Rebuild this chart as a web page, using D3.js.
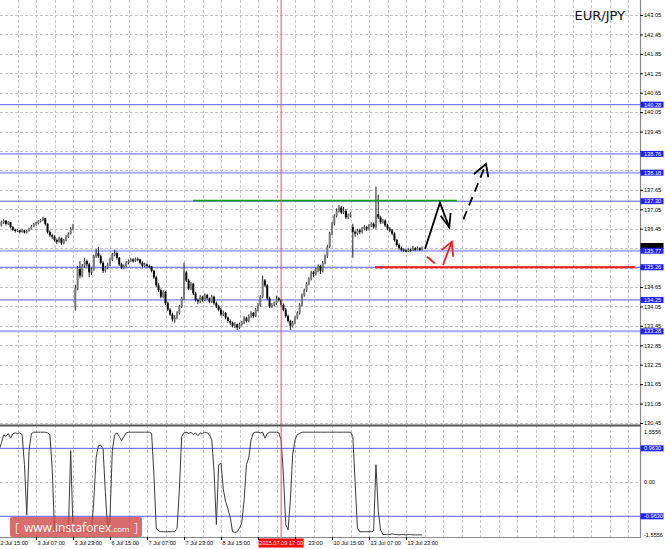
<!DOCTYPE html>
<html><head><meta charset="utf-8">
<script src="https://cdn.jsdelivr.net/npm/d3@7"></script>
<style>html,body{margin:0;padding:0;background:#fff;}svg{display:block;}</style>
</head><body>
<svg id="c" width="665" height="549"></svg>
<script>
// ---- DATA (H1 bars, [open, high, low, close]) ----
const candles = [
[136.50,136.62,136.45,136.55],[136.55,136.70,136.52,136.65],[136.65,136.74,136.60,136.70],[136.70,136.72,136.55,136.60],
[136.60,136.68,136.56,136.65],[136.65,136.66,136.46,136.50],[136.50,136.53,136.38,136.42],[136.42,136.45,136.33,136.38],
[136.38,136.44,136.35,136.40],[136.40,136.42,136.30,136.35],[136.35,136.45,136.33,136.40],[136.40,136.42,136.30,136.33],
[136.33,136.41,136.30,136.38],[136.38,136.48,136.36,136.45],[136.45,136.56,136.43,136.52],[136.52,136.63,136.50,136.60],
[136.60,136.66,136.55,136.62],[136.62,136.71,136.58,136.68],[136.68,136.75,136.64,136.72],[136.72,136.82,136.68,136.78],
[136.78,136.79,136.55,136.60],[136.60,136.62,136.30,136.35],[136.35,136.40,136.20,136.25],[136.25,136.30,136.14,136.20],
[136.20,136.24,136.05,136.10],[136.10,136.15,135.98,136.05],[136.05,136.20,136.02,136.15],[136.15,136.18,135.95,136.00],
[136.00,136.14,135.97,136.10],[136.10,136.25,136.06,136.20],[136.20,136.34,136.16,136.30],[136.30,136.50,136.27,136.45],
[136.45,136.60,136.40,136.50],
[134.05,134.72,133.92,134.62],[134.62,135.30,134.55,135.20],[135.20,135.45,134.92,135.00],[135.00,135.36,134.95,135.30],
[135.30,135.55,135.25,135.45],[135.45,135.50,135.28,135.35],[135.35,135.40,134.95,135.10],[135.10,135.25,135.02,135.20],
[135.20,135.65,135.15,135.60],[135.60,135.82,135.55,135.70],[135.70,135.88,135.55,135.60],[135.60,135.65,135.35,135.40],
[135.40,135.45,135.08,135.15],[135.15,135.30,135.10,135.25],[135.25,135.40,135.20,135.35],[135.35,135.55,135.30,135.50],
[135.50,135.70,135.45,135.65],[135.65,135.80,135.60,135.70],[135.70,135.74,135.50,135.55],[135.55,135.58,135.30,135.35],
[135.35,135.40,135.20,135.25],[135.25,135.35,135.20,135.30],[135.30,135.45,135.26,135.40],[135.40,135.50,135.35,135.45],
[135.45,135.55,135.42,135.50],[135.50,135.53,135.40,135.45],[135.45,135.56,135.42,135.52],[135.52,135.56,135.45,135.50],
[135.50,135.52,135.35,135.40],[135.40,135.44,135.25,135.30],[135.30,135.40,135.26,135.35],[135.35,135.38,135.25,135.30],
[135.30,135.34,135.22,135.28],[135.28,135.30,135.10,135.15],[135.15,135.18,134.90,134.95],[134.95,135.00,134.65,134.70],
[134.70,134.78,134.50,134.55],[134.55,134.60,134.30,134.35],[134.35,134.55,134.30,134.50],[134.50,134.52,134.10,134.15],
[134.15,134.20,133.90,133.95],[133.95,134.00,133.75,133.80],[133.80,133.86,133.58,133.65],[133.65,133.78,133.55,133.70],
[133.70,133.90,133.65,133.85],[133.85,134.10,133.80,134.05],[134.05,134.35,134.00,134.30],[134.30,135.40,134.25,135.10],
[135.10,135.15,134.80,134.85],[134.85,134.90,134.55,134.60],[134.60,134.80,134.55,134.75],[134.75,134.78,134.40,134.45],
[134.45,134.50,134.20,134.25],[134.25,134.30,134.12,134.20],[134.20,134.40,134.15,134.35],[134.35,134.38,134.20,134.25],
[134.25,134.45,134.22,134.40],[134.40,134.44,134.25,134.30],[134.30,134.33,134.15,134.20],[134.20,134.40,134.16,134.35],
[134.35,134.38,134.10,134.15],[134.15,134.20,134.00,134.05],[134.05,134.10,133.90,133.95],[133.95,134.00,133.75,133.80],
[133.80,133.92,133.75,133.85],[133.85,133.88,133.65,133.70],[133.70,133.74,133.55,133.60],[133.60,133.65,133.48,133.55],
[133.55,133.58,133.40,133.45],[133.45,133.56,133.38,133.50],[133.50,133.52,133.32,133.40],[133.40,133.55,133.36,133.50],
[133.50,133.60,133.45,133.55],[133.55,133.75,133.50,133.70],[133.70,133.73,133.55,133.60],[133.60,133.80,133.56,133.75],
[133.75,133.90,133.70,133.85],[133.85,133.88,133.70,133.75],[133.75,134.00,133.72,133.95],[133.95,134.15,133.90,134.10],
[134.10,134.40,134.05,134.35],[134.35,135.00,134.30,134.85],[134.85,134.90,134.65,134.70],[134.70,134.74,134.25,134.30],
[134.30,134.35,134.00,134.05],[134.05,134.15,134.00,134.10],[134.10,134.20,134.05,134.15],[134.15,134.38,134.10,134.30],
[134.30,134.34,134.20,134.25],[134.25,134.28,134.05,134.10],[134.10,134.14,133.90,133.95],[133.95,134.00,133.70,133.75],
[133.75,133.80,133.55,133.60],[133.60,133.64,133.32,133.45],[133.45,133.60,133.40,133.55],[133.55,133.75,133.50,133.70],
[133.70,133.90,133.65,133.85],[133.85,134.15,133.80,134.10],[134.10,134.45,134.05,134.40],[134.40,134.60,134.35,134.55],
[134.55,134.80,134.50,134.75],[134.75,134.95,134.70,134.90],[134.90,135.15,134.85,135.10],[135.10,135.14,134.95,135.05],
[135.05,135.25,135.00,135.20],[135.20,135.35,135.10,135.30],[135.30,135.34,135.05,135.15],[135.15,135.45,135.10,135.40],
[135.40,135.65,135.35,135.60],[135.60,135.95,135.55,135.90],[135.90,136.35,135.85,136.30],[136.30,136.65,136.25,136.60],
[136.60,136.90,136.55,136.85],[136.85,137.08,136.80,137.00],[137.00,137.18,136.95,137.10],[137.10,137.15,136.90,136.95],
[136.95,137.12,136.90,137.00],[137.00,137.05,136.75,136.80],[136.80,136.92,136.75,136.85],[136.85,136.95,136.80,136.90],
[136.50,136.60,135.55,136.35],[136.35,136.40,136.20,136.30],[136.30,136.45,136.25,136.40],[136.40,136.45,136.28,136.35],
[136.35,136.50,136.30,136.45],[136.45,136.56,136.40,136.50],[136.50,136.54,136.38,136.45],[136.45,136.60,136.40,136.55],
[136.55,136.65,136.50,136.60],[136.60,136.64,136.45,136.50],[136.50,137.75,136.45,136.90],[136.90,137.50,136.75,136.80],
[136.80,136.85,136.60,136.65],[136.65,136.75,136.60,136.70],[136.70,136.74,136.50,136.55],[136.55,136.60,136.40,136.45],
[136.45,136.50,136.35,136.40],[136.40,136.44,136.25,136.30],[136.30,136.34,136.05,136.10],[136.10,136.14,135.90,135.95],
[135.95,136.00,135.80,135.85],[135.85,135.90,135.75,135.80],[135.80,135.85,135.74,135.78],[135.78,135.82,135.72,135.75],
[135.75,135.85,135.73,135.80],[135.80,135.84,135.74,135.78],[135.78,135.92,135.76,135.85],[135.85,135.88,135.76,135.80],
[135.80,135.90,135.78,135.85],[135.85,135.88,135.76,135.80],[135.80,135.90,135.78,135.87]
];
const oscValues = [
0.92,1.10,1.34,1.30,1.38,1.25,1.38,1.40,1.38,1.40,
1.35,0.50,-0.93,0.90,1.38,1.42,1.42,1.42,1.42,1.42,
1.42,1.40,1.35,0.40,-1.35,-1.40,-1.40,-1.40,-1.40,-1.40,
-1.40,0.90,-1.35,-1.40,-1.40,-1.40,-1.40,-1.40,-1.40,-1.40,
-1.40,-0.50,0.70,1.04,1.05,0.95,-0.30,-1.35,-1.00,0.90,
1.35,1.40,1.30,1.18,1.30,1.40,1.42,1.42,1.42,1.42,
1.42,1.42,1.42,1.42,1.42,1.42,1.38,0.20,-1.30,-1.38,
-1.40,-1.40,-1.40,-1.40,-1.40,-1.40,-1.40,-1.30,-0.20,1.30,
1.40,1.42,1.38,1.42,1.35,1.40,1.32,1.40,1.38,1.42,
1.40,1.35,1.20,0.30,-1.20,0.50,0.54,-0.20,-0.55,-0.75,
-1.00,-1.40,-1.42,-1.40,-1.30,-1.15,-0.50,0.50,0.70,1.20,
1.40,1.42,1.42,1.40,1.42,1.25,1.38,1.42,1.42,1.42,
1.42,1.40,1.20,0.20,-1.20,-1.35,-0.50,0.80,1.20,1.35,
1.38,1.42,1.42,1.42,1.42,1.42,1.42,1.42,1.42,1.42,
1.42,1.42,1.42,1.42,1.42,1.42,1.42,1.42,1.42,1.42,
1.42,1.42,1.42,1.30,0.00,-1.30,-1.40,-1.40,-1.40,-1.40,
-1.40,-1.40,-1.38,0.50,-0.80,-1.35,-1.48,-1.48,-1.47,-1.48,
-1.46,-1.48,-1.48,-1.49,-1.48,-1.48,-1.49,-1.48,-1.48,-1.49,
-1.49,-1.49,-1.49,-1.49
];
const priceTicks = [143.05,142.45,141.85,141.25,140.65,140.05,139.45,138.85,138.25,137.65,137.05,136.45,135.85,135.25,134.65,134.05,133.45,132.85,132.25,131.65,131.05,130.45];
const levelLines = [140.28,138.76,137.30,135.26,134.25];
const levelLabels = ["140.28","138.76","137.30","135.26","134.25"];
const lightLevelLines = [138.18,135.77,133.28];
const lightLevelLabels = ["138.18","135.77","133.28"];
const lastPrice = 135.87;
const oscLevels = [0.9630,-0.9630];
const oscLevelLabels = ["0.9630","-0.9630"];
const oscTickValues = [1.5556,0.00,-1.5556];
const oscTickLabels = ["1.5556","0.00","-1.5556"];
// ticks every 16 H1 bars; the 9 Jul 07:00 label is hidden under the marker box, 9 Jul 23:00 shows only "23:00"
const timeTickIdx = [0,16,32,48,64,80,96,112,128,144,160,176];
const timeTickLabels = ["2 Jul 15:00","3 Jul 07:00","3 Jul 23:00","6 Jul 15:00","7 Jul 07:00","7 Jul 23:00","8 Jul 15:00","","23:00","10 Jul 15:00","13 Jul 07:00","13 Jul 23:00"];
const markerIdx = 122, markerLabel = "2015.07.09 17:00";
const greenLevel = {from:83.9, to:198, price:137.32};
const redLevel = {from:162.6, to:275, price:135.26};
const blackPath = [[184.2,135.82],[190.7,137.25],[194.7,136.49]];
const blackHead = [[191.0,136.85],[194.7,136.49],[195.3,136.94]];
const dashedPath = [[200.8,136.74],[210.6,138.45]];
const dashedHead = [[205.4,138.14],[210.6,138.45],[211.6,138.04]];
const redStroke1 = [[185.1,135.585],[188.5,135.38]];
const redStroke2 = [[192.0,135.33],[195.8,136.05]];
const redHead = [[191.4,135.79],[195.8,136.05],[196.4,135.585]];

// ---- SCALES ----
const svg = d3.select('#c');
const plotR = 640;
const xS = d3.scaleLinear().domain([0,277]).range([-1,-1+277*2.3125]);
const yP = d3.scaleLinear().domain([130.45,143.05]).range([423,15]);
const yI = d3.scaleLinear().domain([-1.5556,1.5556]).range([537.2,427.4]);
const FONT = 'Liberation Sans, Arial, sans-serif';

svg.append('rect').attr('width',665).attr('height',549).attr('fill','#fff');
const defs = svg.append('defs');
defs.append('clipPath').attr('id','cp').append('rect').attr('x',0).attr('y',0).attr('width',plotR).attr('height',425);
defs.append('clipPath').attr('id','ci').append('rect').attr('x',0).attr('y',426).attr('width',plotR).attr('height',111);

// grid
const gridIdx = d3.range(8,277,8);
const grid = svg.append('g').attr('stroke','#c4c4c4').attr('stroke-width',1).attr('stroke-dasharray','3,2');
grid.selectAll('line.v').data(gridIdx).join('line')
  .attr('x1',d=>Math.round(xS(d))+0.5).attr('x2',d=>Math.round(xS(d))+0.5).attr('y1',0).attr('y2',537);
grid.selectAll('line.h').data(priceTicks).join('line')
  .attr('x1',0).attr('x2',plotR).attr('y1',d=>Math.round(yP(d))+0.5).attr('y2',d=>Math.round(yP(d))+0.5);
grid.append('line').attr('x1',0).attr('x2',plotR).attr('y1',Math.round(yI(0))+0.5).attr('y2',Math.round(yI(0))+0.5);

// price panel
const pg = svg.append('g').attr('clip-path','url(#cp)');
pg.selectAll('line.lv').data(levelLines).join('line')
  .attr('x1',0).attr('x2',plotR).attr('y1',d=>yP(d)).attr('y2',d=>yP(d))
  .attr('stroke','#5a5aff').attr('stroke-width',1);
pg.selectAll('line.llv').data(lightLevelLines).join('line')
  .attr('x1',0).attr('x2',plotR).attr('y1',d=>yP(d)).attr('y2',d=>yP(d))
  .attr('stroke','#a9a9ff').attr('stroke-width',2);

// candles
pg.selectAll('line.wick').data(candles).join('line')
  .attr('x1',(d,i)=>xS(i)).attr('x2',(d,i)=>xS(i))
  .attr('y1',d=>yP(d[1])).attr('y2',d=>yP(d[2]))
  .attr('stroke','#1a1a1a').attr('stroke-width',1);
pg.selectAll('rect.body').data(candles).join('rect')
  .attr('x',(d,i)=>xS(i)-1).attr('width',2)
  .attr('y',d=>yP(Math.max(d[0],d[3])))
  .attr('height',d=>Math.max(0.9,Math.abs(yP(d[0])-yP(d[3]))))
  .attr('fill',d=>d[3]>=d[0]?'#7a7a7a':'#0a0a0a');

// analyst lines
pg.append('line').attr('x1',xS(greenLevel.from)).attr('x2',xS(greenLevel.to))
  .attr('y1',yP(greenLevel.price)).attr('y2',yP(greenLevel.price)).attr('stroke','#1e9e1e').attr('stroke-width',1.8);
pg.append('line').attr('x1',xS(redLevel.from)).attr('x2',xS(redLevel.to))
  .attr('y1',yP(redLevel.price)).attr('y2',yP(redLevel.price)).attr('stroke','#ee1515').attr('stroke-width',2);
const ln = d3.line().x(d=>xS(d[0])).y(d=>yP(d[1]));
pg.append('path').attr('d',ln(blackPath)).attr('fill','none').attr('stroke','#000').attr('stroke-width',1.8);
pg.append('path').attr('d',ln(blackHead)).attr('fill','none').attr('stroke','#000').attr('stroke-width',1.8);
pg.append('path').attr('d',ln(dashedPath)).attr('fill','none').attr('stroke','#000').attr('stroke-width',1.8).attr('stroke-dasharray','9,6');
pg.append('path').attr('d',ln(dashedHead)).attr('fill','none').attr('stroke','#000').attr('stroke-width',1.8);
[redStroke1,redStroke2,redHead].forEach(p=>{
  pg.append('path').attr('d',ln(p)).attr('fill','none').attr('stroke','#f01c1c').attr('stroke-width',1.8);
});

// indicator
const ig = svg.append('g').attr('clip-path','url(#ci)');
ig.selectAll('line.ol').data(oscLevels).join('line')
  .attr('x1',0).attr('x2',plotR).attr('y1',d=>yI(d)).attr('y2',d=>yI(d))
  .attr('stroke','#5a5aff').attr('stroke-width',1);
ig.append('path').datum(oscValues)
  .attr('d',d3.line().x((d,i)=>xS(i)).y(d=>yI(d)))
  .attr('fill','none').attr('stroke','#3a3a3a').attr('stroke-width',1);

// marker vertical line
svg.append('line').attr('x1',xS(markerIdx)).attr('x2',xS(markerIdx)).attr('y1',0).attr('y2',537)
  .attr('stroke','#ff4a4a').attr('stroke-width',1);

// frame lines
svg.append('line').attr('x1',plotR+0.5).attr('x2',plotR+0.5).attr('y1',0).attr('y2',538).attr('stroke','#8a8a8a').attr('stroke-width',1.2);
svg.append('line').attr('x1',0).attr('x2',plotR+1).attr('y1',425.5).attr('y2',425.5).attr('stroke','#555').attr('stroke-width',2);
svg.append('line').attr('x1',0).attr('x2',plotR+1).attr('y1',537.5).attr('y2',537.5).attr('stroke','#8a8a8a').attr('stroke-width',1);

// price axis (labels hidden where a level box covers them)
const boxYs = levelLines.concat(lightLevelLines,[lastPrice]).map(v=>yP(v));
const pAxis = svg.append('g').attr('transform',`translate(${plotR},0)`)
  .call(d3.axisRight(yP).tickValues(priceTicks).tickSize(3).tickPadding(1)
    .tickFormat(d=>boxYs.some(b=>Math.abs(b-yP(d))<3.6)?'':d3.format('.2f')(d)));
pAxis.select('.domain').remove();
pAxis.selectAll('line').attr('stroke','#000');
pAxis.selectAll('text').attr('font-family',FONT).attr('font-size',5.6).attr('fill','#000');

// indicator axis
const iAxis = svg.append('g').attr('transform',`translate(${plotR},0)`);
iAxis.selectAll('text').data(oscTickValues).join('text')
  .attr('x',4).attr('y',(d,i)=>yI(d)+(i===0?5:(i===2?-2:0))).attr('dy','0.32em')
  .attr('font-family',FONT).attr('font-size',5.6).attr('fill','#000')
  .text((d,i)=>oscTickLabels[i]);

// level label boxes
function levelBox(y, txt, bg){
  const g = svg.append('g');
  g.append('rect').attr('x',plotR+0.5).attr('y',y-3).attr('width',23).attr('height',6).attr('fill',bg);
  if(txt) g.append('text').attr('x',plotR+4).attr('y',y).attr('dy','0.34em')
    .attr('font-family',FONT).attr('font-size',5.6).attr('fill','#fff').text(txt);
}
levelBox(yP(lastPrice)-1.5, '', '#000');
levelLines.forEach((v,i)=>levelBox(yP(v), levelLabels[i], '#1f1fff'));
lightLevelLines.forEach((v,i)=>levelBox(yP(v), lightLevelLabels[i], '#1f1fff'));
oscLevels.forEach((v,i)=>levelBox(yI(v), oscLevelLabels[i], '#1f1fff'));

// time axis
const tAxis = svg.append('g').attr('transform','translate(0,537)')
  .call(d3.axisBottom(xS).tickValues(timeTickIdx).tickSize(3).tickFormat((d,i)=>timeTickLabels[i]));
tAxis.select('.domain').remove();
tAxis.selectAll('line').attr('stroke','#000');
tAxis.selectAll('text').attr('text-anchor','start').attr('dx',(d,i)=>timeTickLabels[i]==='23:00'?13:1).attr('y',4)
  .attr('font-family',FONT).attr('font-size',5.6).attr('fill','#000');

// marker time label
const mx = xS(markerIdx);
svg.append('rect').attr('x',mx-22.5).attr('y',538.5).attr('width',45).attr('height',9).attr('fill','#ff0000');
svg.append('text').attr('x',mx).attr('y',543).attr('dy','0.34em').attr('text-anchor','middle')
  .attr('font-family',FONT).attr('font-size',5.6).attr('fill','#fff').text(markerLabel);

// title
svg.append('text').attr('x',625).attr('y',20).attr('text-anchor','end')
  .attr('font-family','DejaVu Sans, sans-serif').attr('font-size',13).attr('fill','#111').text('EUR/JPY');

// logo
const lg = svg.append('g');
lg.append('rect').attr('x',10).attr('y',517).attr('width',132).attr('height',20).attr('rx',2)
  .attr('fill','#d04848').attr('opacity',0.8);
const lt = lg.append('text').attr('y',532).attr('font-family','Open Sans, sans-serif').attr('fill','#fff');
lt.append('tspan').attr('x',15).attr('font-size',13).attr('font-weight',300).text('[');
lt.append('tspan').attr('x',24).attr('font-size',12).text('www.instaforex');
lt.append('tspan').attr('font-size',8).text('.com');
lt.append('tspan').attr('x',134).attr('font-size',13).attr('font-weight',300).text(']');
</script>
</body></html>
